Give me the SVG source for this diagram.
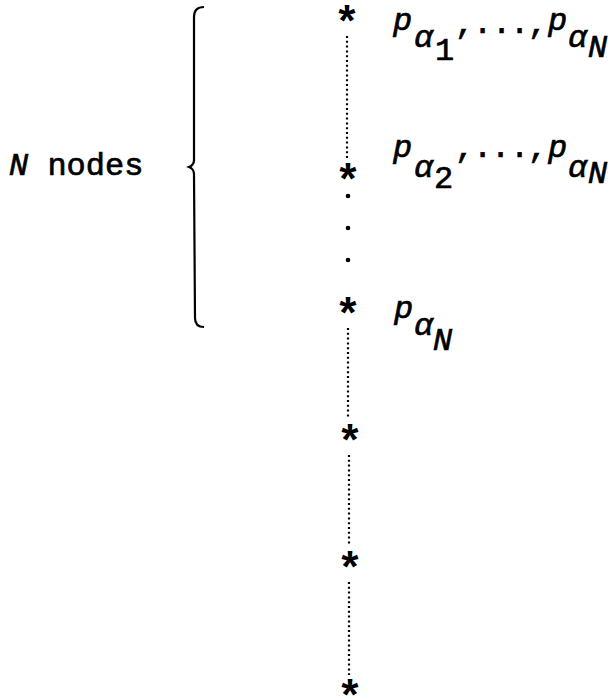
<svg xmlns="http://www.w3.org/2000/svg" width="608" height="700" viewBox="0 0 608 700">
<style>
.t{font-family:"Liberation Mono","DejaVu Sans Mono",monospace;font-size:32px;fill:#000;stroke:#000;stroke-width:0.7}
.i{font-style:italic}
.star{font-family:"Liberation Mono","DejaVu Sans Mono",monospace;font-size:44px;font-weight:bold;fill:#000;text-anchor:middle}
.dot{stroke:#000;stroke-width:2.2;stroke-dasharray:2 2.8;fill:none}
.brace{stroke:#000;stroke-width:2.2;fill:none}
</style>
<rect width="608" height="700" fill="#fff"/>
<g id="connectors">
<line class="dot" x1="347" y1="36" x2="347" y2="160"/>
<line class="dot" x1="348" y1="328" x2="348" y2="418"/>
<line class="dot" x1="349" y1="455" x2="349" y2="545"/>
<line class="dot" x1="349" y1="582" x2="349" y2="675"/>
</g>
<g id="ellipsis">
<circle cx="348" cy="196" r="2.3"/>
<circle cx="348" cy="228" r="2.3"/>
<circle cx="348" cy="260" r="2.3"/>
</g>
<g id="brace">
<path class="brace" d="M204,7 C197,7 194,10 194,17 L194,160 Q194,165 189,167 Q194,169 194,174 L195,318 C195,324 198,327 204,327"/>
</g>
<g id="label-n-nodes">
<text class="t" x="9" y="175"><tspan class="i">N</tspan> nodes</text>
</g>
<g id="node1">
<text class="star" x="347" y="37">*</text>
<text class="t"><tspan class="i" x="393" y="30">p</tspan><tspan class="i" x="414" y="47">α</tspan><tspan x="435" y="60">1</tspan><tspan x="455 473 492 510 528" y="33">,...,</tspan><tspan class="i" x="548" y="30">p</tspan><tspan class="i" x="568" y="47">α</tspan><tspan class="i" x="588" y="57">N</tspan></text>
</g>
<g id="node2">
<text class="star" x="348" y="195">*</text>
<text class="t"><tspan class="i" x="393" y="157">p</tspan><tspan class="i" x="414" y="177">α</tspan><tspan x="434" y="188">2</tspan><tspan x="455 473 491 510 528" y="157">,...,</tspan><tspan class="i" x="548" y="157">p</tspan><tspan class="i" x="568" y="177">α</tspan><tspan class="i" x="588" y="183">N</tspan></text>
</g>
<g id="node3">
<text class="star" x="348" y="329">*</text>
<text class="t"><tspan class="i" x="394" y="318">p</tspan><tspan class="i" x="414" y="335">α</tspan><tspan class="i" x="433" y="350">N</tspan></text>
</g>
<g id="node4">
<text class="star" x="350" y="456">*</text>
</g>
<g id="node5">
<text class="star" x="350" y="583">*</text>
</g>
<g id="node6">
<text class="star" x="350" y="711">*</text>
</g>
</svg>
